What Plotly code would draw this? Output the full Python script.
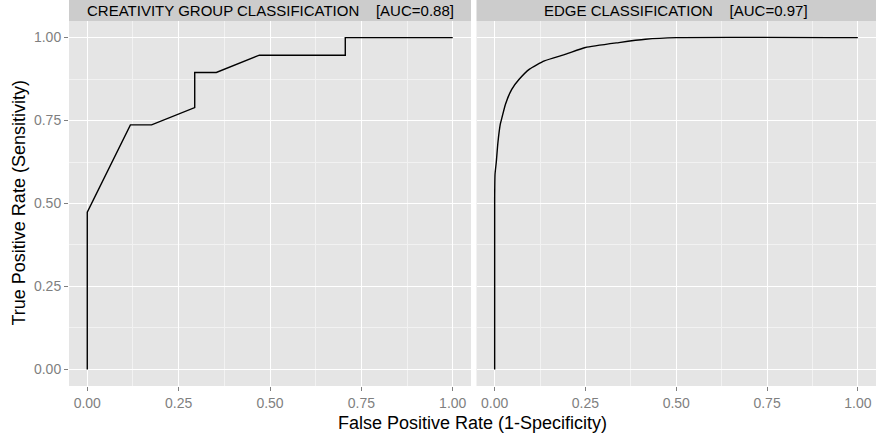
import plotly.graph_objects as go

# ROC curve of the creativity-group classifier
creat_fpr = [0.0, 0.0, 0.118, 0.176, 0.294, 0.294, 0.353, 0.471, 0.706, 0.706, 1.0]
creat_tpr = [0.0, 0.474, 0.737, 0.737, 0.789, 0.895, 0.895, 0.947, 0.947, 1.0, 1.0]

# ROC curve of the edge classifier
edge_fpr = [0.0, 0.0, 0.001, 0.0045, 0.009, 0.0155, 0.018, 0.030, 0.047, 0.068,
            0.096, 0.137, 0.196, 0.25, 0.342, 0.415, 0.5, 1.0]
edge_tpr = [0.0, 0.513, 0.588, 0.625, 0.684, 0.739, 0.75, 0.80, 0.844, 0.875,
            0.905, 0.93, 0.95, 0.97, 0.985, 0.995, 1.0, 1.0]

panel_titles = ["CREATIVITY GROUP CLASSIFICATION    [AUC=0.88]",
                "EDGE CLASSIFICATION    [AUC=0.97]"]
tick_vals = [0, 0.25, 0.5, 0.75, 1.0]
minor_vals = [0.125, 0.375, 0.625, 0.875]

W, H = 876, 436
L, B = 69, 50
STRIP = 21
ydom_top = (H - B - STRIP) / (H - B)
xdoms = [[0, 402 / (W - L)], [407.5 / (W - L), 1]]

fig = go.Figure()
fig.add_trace(go.Scatter(x=creat_fpr, y=creat_tpr, mode="lines",
                         line=dict(color="black", width=1.4),
                         xaxis="x", yaxis="y", showlegend=False))
fig.add_trace(go.Scatter(x=edge_fpr, y=edge_tpr, mode="lines",
                         line=dict(color="black", width=1.4, shape="spline",
                                   smoothing=0.5),
                         xaxis="x2", yaxis="y2", showlegend=False))

axis_common = dict(
    range=[-0.05, 1.05], tickvals=tick_vals, tickformat=".2f",
    showgrid=True, gridcolor="white", gridwidth=1.4, zeroline=False,
    showline=False, ticklen=4, tickcolor="#7f7f7f",
    tickfont=dict(family="Liberation Sans, Arial", size=14, color="#7f7f7f"),
    minor=dict(tickvals=minor_vals, showgrid=True, gridcolor="#f2f2f2",
               gridwidth=0.8, ticks=""),
)

fig.update_layout(
    width=W, height=H,
    margin=dict(l=L, r=0, t=0, b=B, autoexpand=False),
    paper_bgcolor="white", plot_bgcolor="#e5e5e5",
    font=dict(family="Liberation Sans, Arial", color="black"),
    xaxis=dict(domain=xdoms[0], anchor="y", ticks="outside", **axis_common),
    yaxis=dict(domain=[0, ydom_top], anchor="x", ticks="outside", **axis_common),
    xaxis2=dict(domain=xdoms[1], anchor="y2", ticks="outside", **axis_common),
    yaxis2=dict(domain=[0, ydom_top], anchor="x2", matches="y", ticks="",
                showticklabels=False, **axis_common),
)

# facet strips
for i, dom in enumerate(xdoms):
    fig.add_shape(type="rect", xref="paper", yref="paper",
                  x0=dom[0], x1=dom[1], y0=ydom_top, y1=1,
                  fillcolor="#cccccc", line=dict(width=0), layer="below")
    fig.add_annotation(x=(dom[0] + dom[1]) / 2, y=(ydom_top + 1) / 2,
                       xref="paper", yref="paper", showarrow=False,
                       xanchor="center", yanchor="middle",
                       text=panel_titles[i].replace("    ", "&nbsp;&nbsp;&nbsp;&nbsp;"),
                       font=dict(size=15, color="black"))

fig.add_annotation(x=0.5, y=-37 / (H - B), xref="paper", yref="paper",
                   showarrow=False, text="False Positive Rate (1-Specificity)",
                   font=dict(size=18), yanchor="middle")
fig.add_annotation(x=-51 / (W - L), y=ydom_top / 2, xref="paper", yref="paper",
                   showarrow=False, text="True Positive Rate (Sensitivity)",
                   font=dict(size=18), textangle=-90, xanchor="center")

fig.write_html("out.html", config={"displayModeBar": False},
               post_script="document.body.style.margin='0';")
